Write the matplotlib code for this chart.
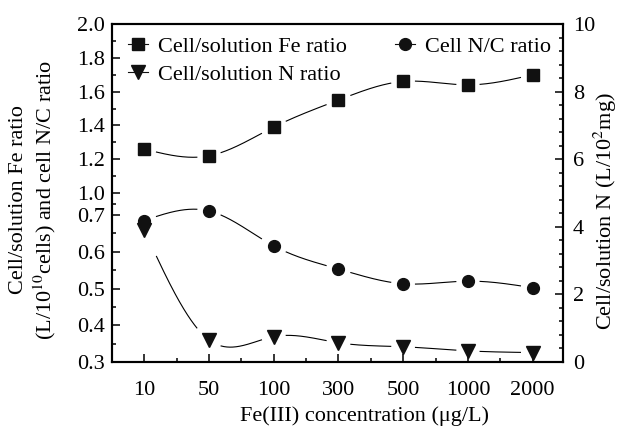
import numpy as np
import matplotlib
matplotlib.use("Agg")
import matplotlib.pyplot as plt
from matplotlib.lines import Line2D
from matplotlib.ticker import FixedLocator, MultipleLocator

plt.rcParams['font.family'] = ['Liberation Serif', 'DejaVu Serif']
plt.rcParams['mathtext.fontset'] = 'stix'

# data
conc = ['10', '50', '100', '300', '500', '1000', '2000']
fe_ratio = [1.26, 1.22, 1.39, 1.55, 1.66, 1.64, 1.70]
nc_ratio = [0.685, 0.755, 0.616, 0.553, 0.513, 0.520, 0.502]
n_ratio = [3.9, 0.65, 0.75, 0.57, 0.45, 0.33, 0.28]

left_major = [0.3, 0.4, 0.5, 0.6, 0.7, 1.0, 1.2, 1.4, 1.6, 1.8, 2.0]
left_minor = [0.35, 0.45, 0.55, 0.65, 0.85, 1.1, 1.3, 1.5, 1.7, 1.9]

# broken-looking left axis: piecewise linear scale
seg_v = np.array([0.3, 0.7, 1.0, 2.0])
seg_p = np.array([0.0, 147.0, 169.0, 338.0])
s0 = (seg_p[1] - seg_p[0]) / (seg_v[1] - seg_v[0])
s1 = (seg_p[-1] - seg_p[-2]) / (seg_v[-1] - seg_v[-2])

def fwd(v):
    v = np.asarray(v, dtype=float)
    return np.where(v < seg_v[0], seg_p[0] + (v - seg_v[0]) * s0,
                    np.where(v > seg_v[-1], seg_p[-1] + (v - seg_v[-1]) * s1,
                             np.interp(v, seg_v, seg_p)))

def inv(p):
    p = np.asarray(p, dtype=float)
    return np.where(p < seg_p[0], seg_v[0] + (p - seg_p[0]) / s0,
                    np.where(p > seg_p[-1], seg_v[-1] + (p - seg_p[-1]) / s1,
                             np.interp(p, seg_p, seg_v)))

def natural_spline(x, y, xq):
    n = len(x)
    h = np.diff(x)
    A = np.zeros((n, n))
    b = np.zeros(n)
    A[0, 0] = A[-1, -1] = 1
    for i in range(1, n - 1):
        A[i, i - 1] = h[i - 1]
        A[i, i] = 2 * (h[i - 1] + h[i])
        A[i, i + 1] = h[i]
        b[i] = 3 * ((y[i + 1] - y[i]) / h[i] - (y[i] - y[i - 1]) / h[i - 1])
    c = np.linalg.solve(A, b)
    bb = (y[1:] - y[:-1]) / h - h * (2 * c[:-1] + c[1:]) / 3
    dd = (c[1:] - c[:-1]) / (3 * h)
    idx = np.clip(np.searchsorted(x, xq) - 1, 0, n - 2)
    dx = xq - x[idx]
    return y[idx] + bb[idx] * dx + c[idx] * dx ** 2 + dd[idx] * dx ** 3

def smooth_line(axis, xs, ys, gap=12):
    pts = axis.transData.transform(np.column_stack([xs, ys]))
    px, py = pts[:, 0], pts[:, 1]
    xx = np.linspace(px[0], px[-1], 800)
    yy = natural_spline(px, py, xx)
    d = np.min(np.abs(xx[:, None] - px[None, :]), axis=1)
    yy[d < gap] = np.nan
    back = axis.transData.inverted().transform(np.column_stack([xx, yy]))
    axis.plot(back[:, 0], back[:, 1], color='black', lw=0.8, zorder=2)

fig = plt.figure(figsize=(6.25, 4.26), dpi=100)
W, H = 625, 426
L, R, T, B = 112, 563, 24, 362
ax = fig.add_axes([L / W, 1 - B / H, (R - L) / W, (B - T) / H])
ax.set_yscale('function', functions=(fwd, inv))
ax.set_ylim(0.3, 2.0)
x = np.arange(len(conc))
ax.set_xlim(-0.5, 6.47)

ax2 = ax.twinx()
ax2.set_ylim(0, 10)

mk = dict(color='#111111', ls='none', zorder=3)
ax.plot(x, fe_ratio, marker='s', ms=8, **mk)
ax.plot(x, nc_ratio, marker='o', ms=8.5, **mk)
ax2.plot(x, n_ratio, marker='v', ms=10, **mk)

smooth_line(ax, x, fe_ratio)
smooth_line(ax, x, nc_ratio)
smooth_line(ax2, x, n_ratio)

ax.set_xticks(x)
ax.set_xticklabels(conc)
ax.xaxis.set_minor_locator(FixedLocator(np.arange(0.5, 6, 1)))
ax.yaxis.set_major_locator(FixedLocator(left_major))
ax.yaxis.set_minor_locator(FixedLocator(left_minor))
ax.set_yticklabels(['%.1f' % v for v in left_major])
ax2.yaxis.set_major_locator(MultipleLocator(2))
ax2.yaxis.set_minor_locator(MultipleLocator(0.4))

for a in (ax, ax2):
    for s in a.spines.values():
        s.set_linewidth(1.5)
    a.tick_params(which='both', direction='in', width=1.1, labelsize=16)
    a.tick_params(which='major', length=6)
    a.tick_params(which='minor', length=3)
ax.tick_params(axis='x', pad=14, top=False)
ax.tick_params(axis='x', which='minor', top=False)
ax.tick_params(axis='y', pad=5, right=False)
ax.tick_params(axis='y', which='minor', right=False)
ax2.tick_params(axis='y', pad=7)

fig.text(33.5 / W, 1 - 200 / H,
         'Cell/solution Fe ratio\n(L/10$^{10}$cells) and cell N/C ratio',
         rotation=90, ha='center', va='center', fontsize=16,
         multialignment='center', linespacing=1.2)
fig.text(605 / W, 1 - 211 / H, 'Cell/solution N (L/10$^{2}$mg)',
         rotation=90, ha='center', va='center', fontsize=16)
fig.text(365 / W, 1 - 416 / H, 'Fe(III) concentration (\u03bcg/L)',
         ha='center', va='center', fontsize=16)

hl = dict(color='#111111', lw=0.8)
handles = [Line2D([], [], marker='s', ms=8, **hl),
           Line2D([], [], marker='v', ms=10, **hl),
           Line2D([], [], marker='o', ms=8.5, **hl)]
labels = ['Cell/solution Fe ratio', 'Cell/solution N ratio', 'Cell N/C ratio']
ax2.legend(handles, labels, loc='upper left', bbox_to_anchor=(0.015, 0.99),
           ncol=2, frameon=False, fontsize=16, handlelength=0.9,
           handletextpad=0.45, columnspacing=2.2, labelspacing=0.35,
           borderaxespad=0.0)

fig.savefig('out.png', dpi=100)
